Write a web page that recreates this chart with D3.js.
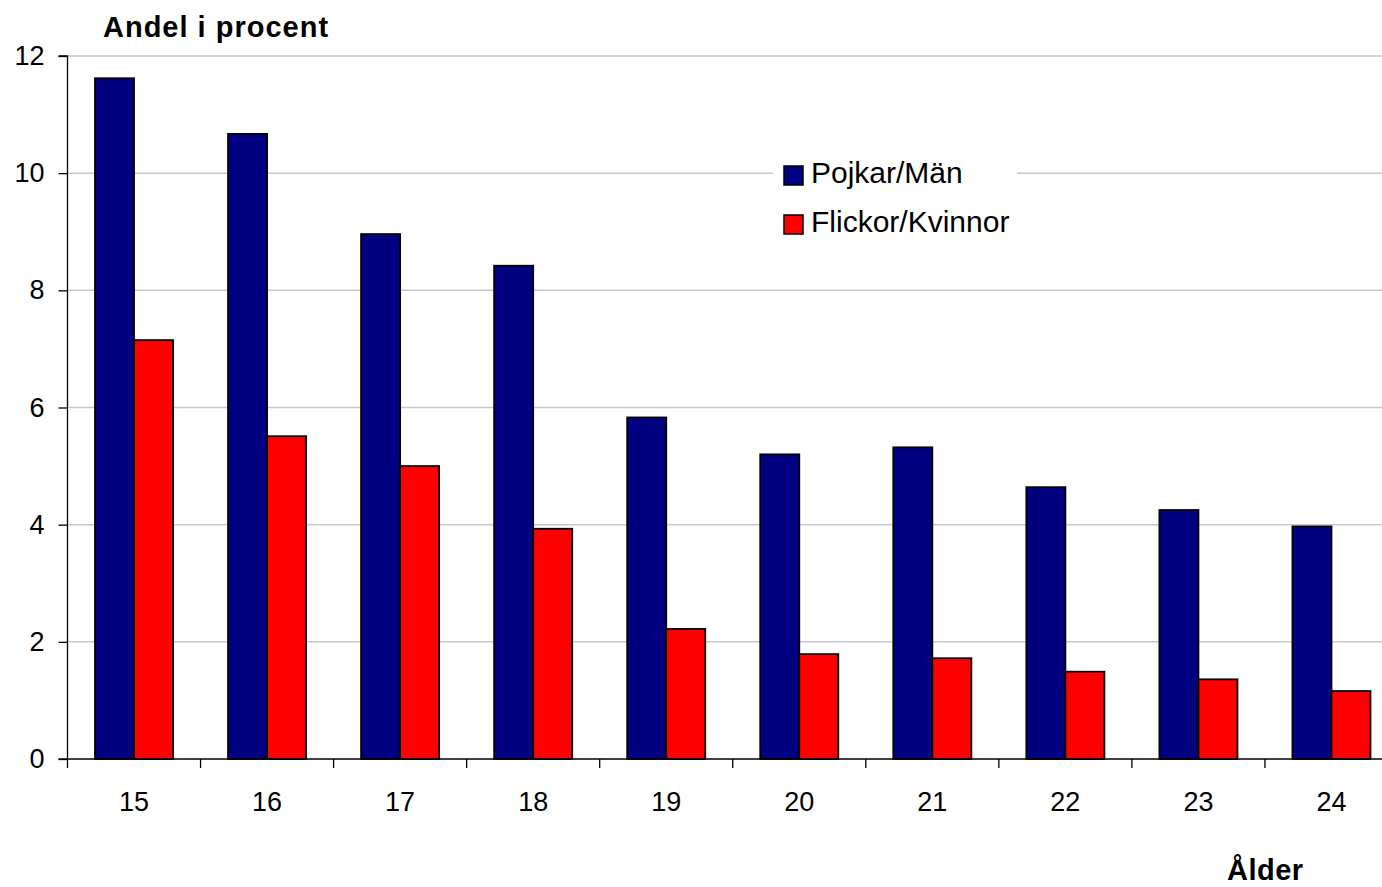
<!DOCTYPE html>
<html><head><meta charset="utf-8">
<script src="https://cdn.jsdelivr.net/npm/d3@7"></script>
<style>body{margin:0;background:#fff;} svg{display:block;font-family:"Liberation Sans",Arial,sans-serif;}</style>
</head><body>
<svg id="c" width="1382" height="887"></svg>
<script>
const ages = ["15","16","17","18","19","20","21","22","23","24"];
const seriesNames = ["Pojkar/Män","Flickor/Kvinnor"];
const pojkar = [11.62,10.67,8.96,8.42,5.83,5.20,5.32,4.64,4.25,3.97];
const flickor = [7.15,5.51,5.00,3.93,2.22,1.79,1.72,1.49,1.36,1.16];
const colors = ["#000080","#ff0000"];
const yTicks = [0,2,4,6,8,10,12];

(function(){
const svg = d3.select("#c");
const pLeft = 67.5, pRight = 1398, pTop = 56, pBottom = 759;
const x0 = d3.scaleBand().domain(ages).range([pLeft,pRight]).paddingInner(0).paddingOuter(0);
const x1 = d3.scaleBand().domain(seriesNames).range([27.5, x0.bandwidth()-27.5]);
const y = d3.scaleLinear().domain([0,12]).range([pBottom,pTop]);

// grid
svg.append("g").selectAll("line").data(yTicks.filter(d=>d>0)).join("line")
  .attr("x1",pLeft).attr("x2",1382).attr("y1",d=>y(d)).attr("y2",d=>y(d))
  .attr("stroke","#c8c8c8").attr("stroke-width",1.5);

// bars
const data = ages.map((a,i)=>({age:a, vals:[pojkar[i],flickor[i]]}));
const g = svg.append("g");
data.forEach(d=>{
  d.vals.forEach((v,j)=>{
    g.append("rect")
      .attr("x", x0(d.age)+x1(seriesNames[j]))
      .attr("y", y(v))
      .attr("width", x1.bandwidth())
      .attr("height", y(0)-y(v))
      .attr("fill", colors[j]).attr("stroke","#000").attr("stroke-width",1.8);
  });
});

// y axis
const yAxis = d3.axisLeft(y).tickValues(yTicks).tickSize(9).tickPadding(14).tickFormat(d3.format("d"));
const ya = svg.append("g").attr("transform",`translate(${pLeft},0)`).call(yAxis);
ya.select(".domain").attr("stroke","#000").attr("stroke-width",1.3).attr("d",`M-9,${pTop}H0V${pBottom}`);
ya.selectAll(".tick line").attr("stroke","#000").attr("stroke-width",1.3);
ya.selectAll("text").attr("font-size",27).attr("fill","#000").attr("font-family","Liberation Sans, Arial, sans-serif");

// x axis
const xa = svg.append("g").attr("transform",`translate(0,${pBottom})`);
xa.append("line").attr("x1",pLeft-9).attr("x2",1382).attr("y1",0).attr("y2",0).attr("stroke","#000").attr("stroke-width",1.3);
const bounds = ages.map(a=>x0(a)).concat([pRight]);
xa.selectAll("line.t").data(bounds).join("line").attr("class","t")
  .attr("x1",d=>d).attr("x2",d=>d).attr("y1",0).attr("y2",9).attr("stroke","#000").attr("stroke-width",1.3);
xa.selectAll("text").data(ages).join("text")
  .attr("x",d=>x0(d)+x0.bandwidth()/2).attr("y",52).attr("text-anchor","middle")
  .attr("font-size",27).attr("fill","#000").text(d=>d);

// titles
svg.append("text").attr("x",103).attr("y",37).attr("font-size",29).attr("font-weight","bold").attr("letter-spacing",1).text("Andel i procent");
svg.append("text").attr("x",1227).attr("y",880).attr("font-size",29).attr("font-weight","bold").attr("letter-spacing",0.5).text("Ålder");

// legend
const lg = svg.append("g");
lg.append("rect").attr("x",773).attr("y",148).attr("width",244).attr("height",96).attr("fill","#fff");
seriesNames.forEach((s,i)=>{
  const yy = 166 + i*49;
  lg.append("rect").attr("x",784).attr("y",yy).attr("width",19).attr("height",19).attr("fill",colors[i]).attr("stroke","#000").attr("stroke-width",1.5);
  lg.append("text").attr("x",811).attr("y",yy+17).attr("font-size",30).attr("fill","#000").text(s);
});
})();
</script>
</body></html>
